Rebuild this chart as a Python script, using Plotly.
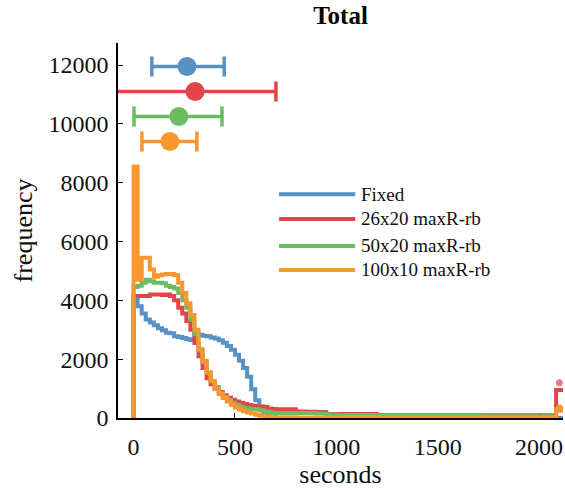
import plotly.graph_objects as go

# ---------------- data ----------------
series_names = ["Fixed", "26x20 maxR-rb", "50x20 maxR-rb", "100x10 maxR-rb"]
series_colors = ["#5891c4", "#e44448", "#6cbc64", "#f9962d"]

bin_edges = [0, 20, 40, 60, 80, 100, 120, 140, 160, 180, 200, 220, 240, 260, 280,
             300, 320, 340, 360, 380, 400, 420, 440, 460, 480, 500, 520, 540, 560, 580,
             600, 620, 640, 660, 680, 700, 750, 800, 850, 900, 950, 1000, 1100, 1200,
             1300, 1400, 1500, 1600, 1700, 1800, 1900, 2000, 2084, 2120]

counts_fixed = [4100, 3800, 3550, 3350, 3250, 3150, 3050, 2980, 2900, 2880, 2780, 2750,
                2720, 2680, 2650, 2870, 2830, 2800, 2780, 2740, 2700, 2640, 2560, 2450,
                2320, 2150, 1950, 1700, 1400, 980, 600, 380, 150, 50, 20,
                10, 5, 0, 0, 0, 0, 0, 0, 0, 0, 0, 0, 0, 0, 0, 0, 0, 0]
counts_26x20 = [4150, 4150, 4150, 4150, 4200, 4200, 4200, 4180, 4200, 4150, 4000, 3750,
                3550, 3300, 3000, 2550, 2100, 1700, 1350, 1150, 1000, 880, 770, 690,
                620, 560, 520, 480, 440, 420, 400, 390, 370, 320, 310,
                300, 300, 220, 210, 200, 140, 140, 140, 100, 100, 90, 90, 90, 90, 90, 90, 90, 950]
counts_50x20 = [4450, 4500, 4600, 4700, 4650, 4600, 4600, 4580, 4500, 4450, 4400, 4250,
                4000, 3750, 3350, 2850, 2300, 1900, 1550, 1250, 1050, 850, 720, 620,
                520, 440, 380, 340, 320, 310, 300, 260, 220, 200, 180,
                170, 170, 170, 170, 150, 120, 100, 100, 100, 100, 100, 100, 100, 60, 60, 60, 60, 300]
counts_100x10 = [8550, 4700, 5450, 5450, 5050, 4800, 4850, 4880, 4900, 4900, 4850, 4600,
                 4250, 3900, 3500, 3000, 2350, 1950, 1550, 1250, 1000, 820, 680, 560,
                 450, 360, 290, 230, 190, 150, 110, 80, 60, 40, 30,
                 20, 20, 15, 15, 15, 15, 15, 15, 15, 15, 15, 15, 15, 15, 15, 15, 15, 250]

overflow_x = 2100
overflow_counts = [None, 1200, 330, 330]

# summary statistics (mean with spread) shown as horizontal error bars
summary_y = [11950, 11100, 10250, 9400]
summary_mean = [263, 303, 223, 179]
summary_low = [90, -130, 2, 41]
summary_high = [447, 702, 436, 312]

y_ticks = [0, 2000, 4000, 6000, 8000, 10000, 12000]
x_ticks = [0, 500, 1000, 1500, 2000]

all_counts = [counts_fixed, counts_26x20, counts_50x20, counts_100x10]

FONT = "Liberation Serif"

fig = go.Figure()

# stair-step histograms
for name, color, counts in zip(series_names, series_colors, all_counts):
    xs = [bin_edges[0]] + bin_edges[:-1] + [bin_edges[-1]]
    ys = [0] + counts + [counts[-1]]
    fig.add_trace(go.Scatter(x=xs, y=ys, mode="lines", line=dict(color=color, width=4, shape="hv"),
                             name=name, showlegend=False, hoverinfo="skip"))

# overflow markers
ov_colors = [None, "#f07a84", "#6cbc64", "#f9962d"]
for c, v in zip(ov_colors, overflow_counts):
    if v is None:
        continue
    fig.add_trace(go.Scatter(x=[overflow_x], y=[v], mode="markers",
                             marker=dict(color=c, size=7), showlegend=False, cliponaxis=False))

# summary error bars
for i, color in enumerate(series_colors):
    m = summary_mean[i]
    fig.add_trace(go.Scatter(
        x=[m], y=[summary_y[i]], mode="markers",
        marker=dict(color=color, size=19),
        error_x=dict(type="data", symmetric=False,
                     array=[summary_high[i] - m], arrayminus=[m - summary_low[i]],
                     color=color, thickness=3.5, width=10),
        showlegend=False))

# custom legend (long line samples)
leg_x0, leg_x1, leg_tx = 0.362, 0.533, 0.542
leg_y = [0.597, 0.531, 0.459, 0.395]
for name, color, yy in zip(series_names, series_colors, leg_y):
    fig.add_shape(type="line", xref="paper", yref="paper", x0=leg_x0, x1=leg_x1, y0=yy, y1=yy,
                  line=dict(color=color, width=4))
    fig.add_annotation(xref="paper", yref="paper", x=leg_tx, y=yy, text=name, showarrow=False,
                       xanchor="left", yanchor="middle", font=dict(family=FONT, size=19, color="#111"))

fig.update_layout(
    width=565, height=490,
    margin=dict(l=118, r=2, t=43, b=72),
    paper_bgcolor="white", plot_bgcolor="white",
    title=dict(text="<b>Total</b>", x=0.5, xref="paper", y=0.968, yref="container",
               xanchor="center", yanchor="middle", font=dict(family=FONT, size=25, color="black")),
    font=dict(family=FONT, size=24, color="#111"),
    showlegend=False,
)
fig.update_xaxes(range=[-77, 2118], tickvals=x_ticks, ticktext=[str(v) for v in x_ticks],
                 ticks="inside", ticklen=5, tickwidth=1.2, tickcolor="black",
                 showline=True, linecolor="black", linewidth=1.5, showgrid=False, zeroline=False,
                 layer="below traces", ticklabelstandoff=6,
                 title=dict(text="seconds", standoff=6, font=dict(family=FONT, size=26)),
                 tickfont=dict(family=FONT, size=24))
fig.update_yaxes(range=[0, 12750], tickvals=y_ticks, ticktext=[str(v) for v in y_ticks],
                 ticks="inside", ticklen=5, tickwidth=1.2, tickcolor="black",
                 showline=True, linecolor="black", linewidth=1.5, showgrid=False, zeroline=False,
                 layer="below traces", ticklabelstandoff=3,
                 title=dict(text="frequency", standoff=8, font=dict(family=FONT, size=26)),
                 tickfont=dict(family=FONT, size=24))

fig.write_html("out.html")
